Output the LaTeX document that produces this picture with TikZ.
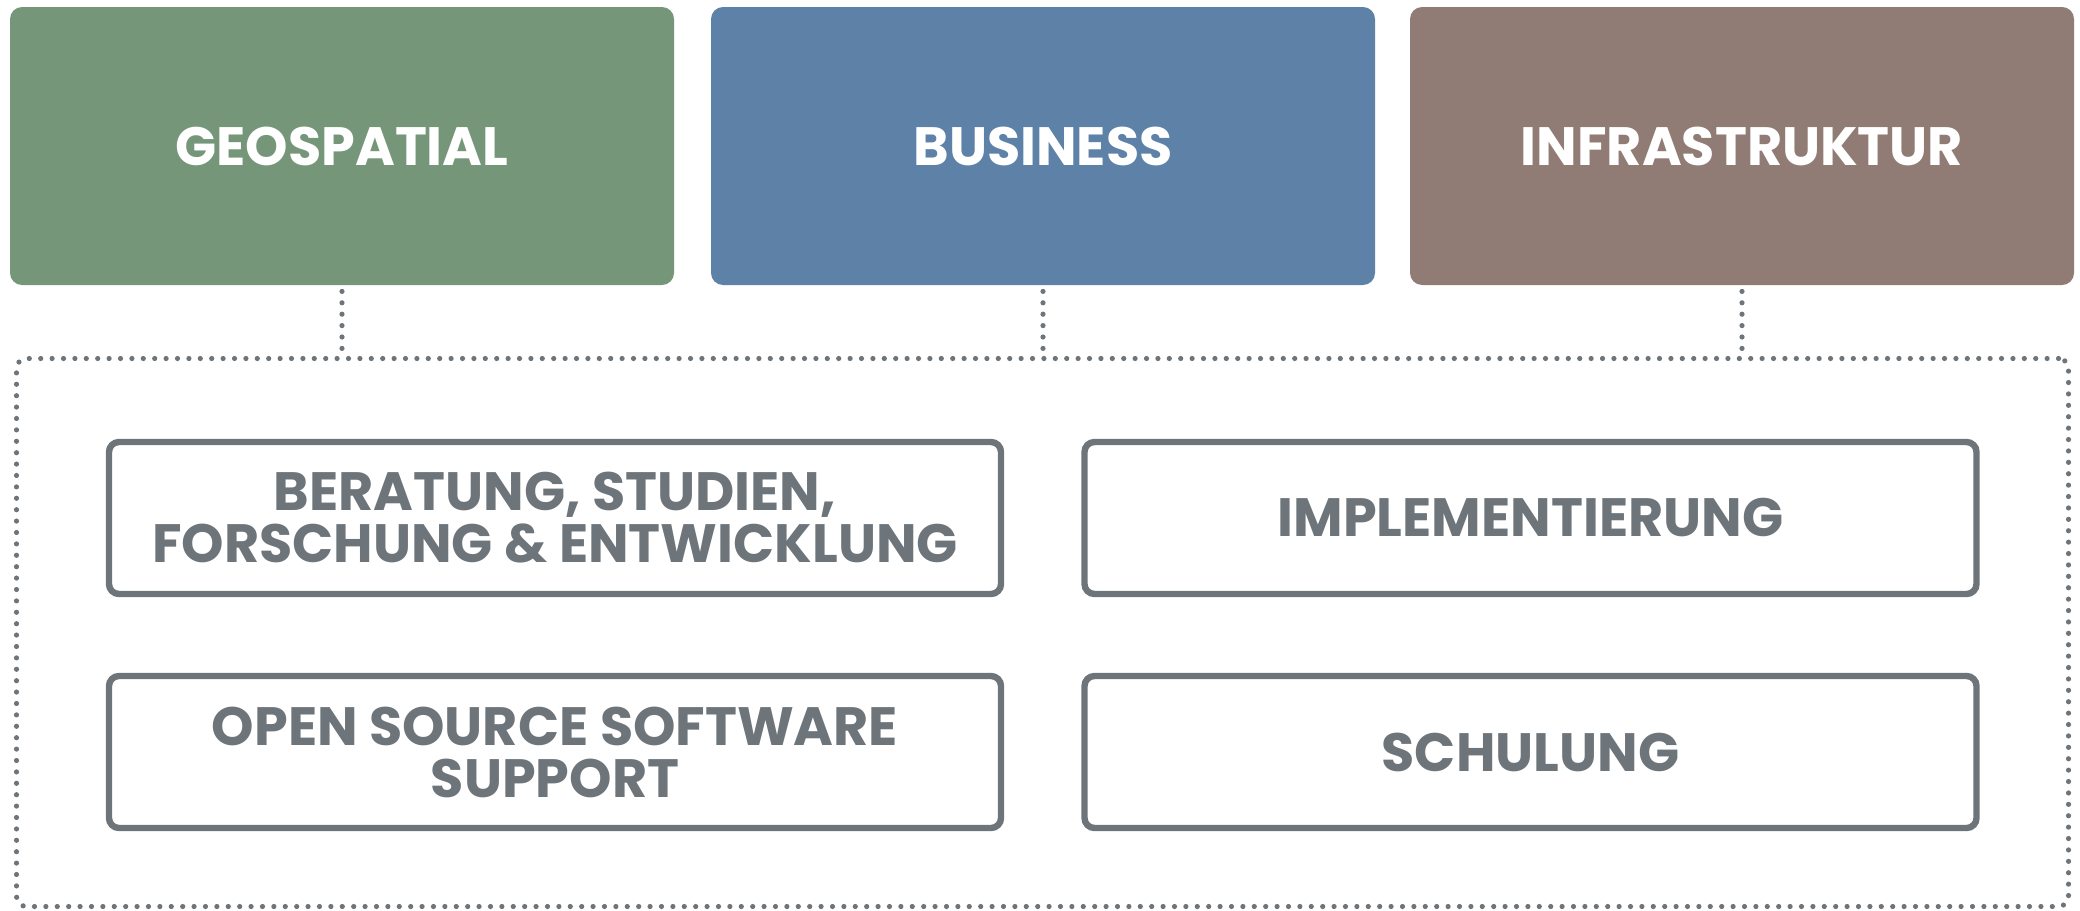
\documentclass[tikz,border=0pt]{standalone}
\usepackage{fontspec}
\setmainfont{Poppins}
\definecolor{geogreen}{HTML}{769679}
\definecolor{busblue}{HTML}{5E81A8}
\definecolor{infrabrown}{HTML}{907C74}
\definecolor{linegray}{HTML}{6E757A}
\tikzset{
  topbox/.style={fill=#1, rounded corners=6pt, minimum width=332pt, minimum height=139pt,
    text=white, font=\fontsize{27}{30}\selectfont\bfseries},
  servicebox/.style={draw=linegray, line width=3.2pt, rounded corners=5pt, minimum width=446pt,
    minimum height=76pt, text=linegray, align=center, font=\fontsize{27}{26}\selectfont\bfseries},
  dotline/.style={draw=linegray, line width=2.6pt, line cap=round, dash pattern=on 0pt off 5.7pt},
}
\begin{document}
\begin{tikzpicture}[x=0.5pt, y=-0.5pt]
    \useasboundingbox (0,0) rectangle (2080,910);

    % Fields
    \node[topbox=geogreen] (geo) at (342,146) {GEOSPATIAL};
    \node[topbox=busblue] (bus) at (1043,146) {BUSINESS};
    \node[topbox=infrabrown] (infra) at (1742,146) {INFRASTRUKTUR};

    % Dotted frame round the services
    \node[dotline, rounded corners=5pt, minimum width=1026pt, minimum height=274pt] (frame) at (1042.5,632.5) {};

    % Links from the fields to the frame
    \draw[dotline] ([yshift=-3pt]geo.south) -- (geo.south |- frame.north);
    \draw[dotline] ([yshift=-3pt]bus.south) -- (bus.south |- frame.north);
    \draw[dotline] ([yshift=-3pt]infra.south) -- (infra.south |- frame.north);

    % Services
    \node[servicebox] (beratung) at (555,518) {BERATUNG, STUDIEN,\\FORSCHUNG \& ENTWICKLUNG};
    \node[servicebox] (implement) at (1530.5,518) {IMPLEMENTIERUNG};
    \node[servicebox] (oss) at (555,752) {OPEN SOURCE SOFTWARE\\SUPPORT};
    \node[servicebox] (schulung) at (1530.5,752) {SCHULUNG};
\end{tikzpicture}
\end{document}
